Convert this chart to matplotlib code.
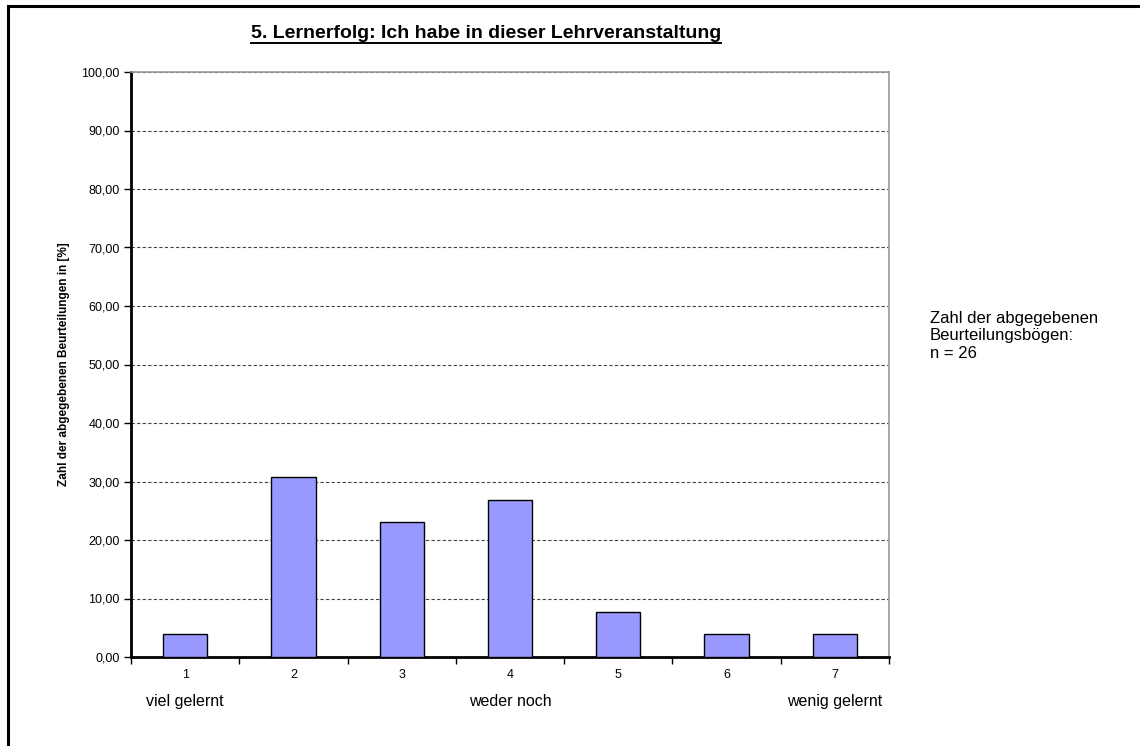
import matplotlib

matplotlib.use("Agg")

import matplotlib.pyplot as plt
from matplotlib.patches import Rectangle

categories = ["1", "2", "3", "4", "5", "6", "7"]
percent = [3.85, 30.77, 23.08, 26.92, 7.69, 3.85, 3.85]
scale_labels = ["viel gelernt", "weder noch", "wenig gelernt"]
scale_positions = [0, 3, 6]
title = "5. Lernerfolg: Ich habe in dieser Lehrveranstaltung"
ylabel = "Zahl der abgegebenen Beurteilungen in [%]"
note = "Zahl der abgegebenen\nBeurteilungsbögen:\nn = 26"

plt.rcParams["font.family"] = ["Liberation Sans", "DejaVu Sans"]

W, H = 1140, 746
fig = plt.figure(figsize=(W / 100, H / 100), dpi=100)

# outer frame (right and bottom edges run off the picture)
fig.patches.append(Rectangle((8 / W, -0.1), 1.2, 1.1 - 6 / H, transform=fig.transFigure,
                             fill=False, edgecolor="black", linewidth=2.2))

left, right, top, bottom = 131, 889, 72, 657
ax = fig.add_axes([left / W, 1 - bottom / H, (right - left) / W, (bottom - top) / H])

x = list(range(len(categories)))
ax.bar(x, percent, width=0.41, color="#9999FF", edgecolor="black", linewidth=1.0, zorder=3)

ax.set_xlim(-0.5, len(categories) - 0.5)
ax.set_ylim(0, 100)
ax.set_yticks(range(0, 101, 10))
ax.set_yticklabels([f"{v:.2f}".replace(".", ",") for v in range(0, 101, 10)], fontsize=9)
ax.set_xticks(x)
ax.set_xticklabels(categories, fontsize=9)
ax.set_xticks([i - 0.5 for i in range(len(categories) + 1)], minor=True)
ax.tick_params(axis="x", which="major", length=0, pad=9)
ax.tick_params(axis="x", which="minor", length=5, width=1.0, direction="out")
ax.tick_params(axis="y", length=5, width=1.0, direction="out", pad=3)

ax.grid(axis="y", linestyle=(0, (3, 2)), linewidth=0.8, color="#444444", zorder=0)
for s in ("left", "bottom"):
    ax.spines[s].set_linewidth(2.0)
    ax.spines[s].set_color("black")
for s in ("top", "right"):
    ax.spines[s].set_linewidth(1.2)
    ax.spines[s].set_color("#999999")

ax.set_ylabel(ylabel, fontsize=8.5, fontweight="bold", labelpad=8)

t = fig.text(486 / W, 1 - 33 / H, title, ha="center", va="center", fontsize=14,
             fontweight="bold")
# underline the title
fig.canvas.draw()
bb = t.get_window_extent()
fig.add_artist(plt.Line2D([bb.x0 / W, bb.x1 / W], [(bb.y0 - 1) / H, (bb.y0 - 1) / H],
                          transform=fig.transFigure, color="black", linewidth=1.4))

for lab, pos in zip(scale_labels, scale_positions):
    ax.annotate(lab, xy=(pos, 0), xycoords=("data", "axes fraction"),
                xytext=(0, -32), textcoords="offset points", ha="center", va="center",
                fontsize=11.5)

fig.text(930 / W, 1 - 311 / H, note, ha="left", va="top", fontsize=12, linespacing=1.2)

fig.savefig("out.png", dpi=100)
